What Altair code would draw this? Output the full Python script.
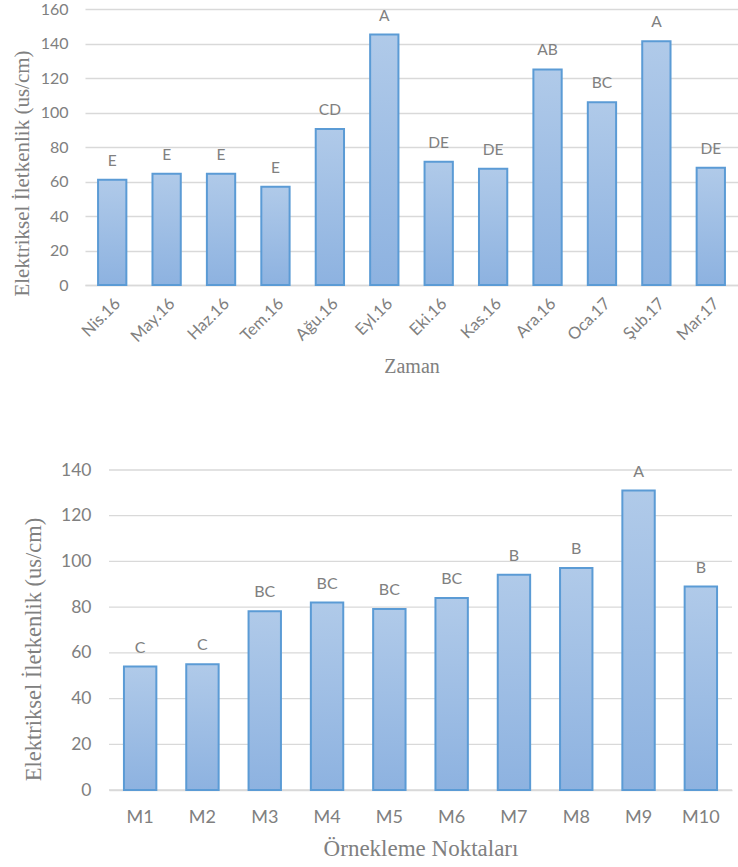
import altair as alt
import pandas as pd

months = ["Nis.16", "May.16", "Haz.16", "Tem.16", "Ağu.16", "Eyl.16",
          "Eki.16", "Kas.16", "Ara.16", "Oca.17", "Şub.17", "Mar.17"]
month_values = [61, 64.5, 64.5, 57, 90.5, 145.2, 71.5, 67.4, 125, 106, 141.3, 68]
month_letters = ["E", "E", "E", "E", "CD", "A", "DE", "DE", "AB", "BC", "A", "DE"]

points = ["M1", "M2", "M3", "M4", "M5", "M6", "M7", "M8", "M9", "M10"]
point_values = [54, 55, 78.2, 82, 79.2, 84, 94.2, 97.1, 131, 89]
point_letters = ["C", "C", "BC", "BC", "BC", "BC", "B", "B", "A", "B"]

top_ticks = [0, 20, 40, 60, 80, 100, 120, 140, 160]
bottom_ticks = [0, 20, 40, 60, 80, 100, 120, 140]

df1 = pd.DataFrame({"cat": months, "val": month_values, "lab": month_letters})
df2 = pd.DataFrame({"cat": points, "val": point_values, "lab": point_letters})
grid2 = pd.DataFrame({"val": bottom_ticks})

grad = alt.Gradient(
    gradient="linear",
    stops=[alt.GradientStop(color="#b0cae9", offset=0),
           alt.GradientStop(color="#8db2e0", offset=1)],
    x1=0, x2=0, y1=0, y2=1,
)

GRAY = "#808080"
GRID = "#d9d9d9"
SANS = "Lato"
SERIF = "Liberation Serif"
YTITLE = "Elektriksel İletkenlik  (us/cm)"

# ---------------- top panel ----------------
x1 = alt.X("cat:N", sort=months, title="Zaman",
           scale=alt.Scale(paddingInner=0.48, paddingOuter=0.24),
           axis=alt.Axis(labelAngle=-45, labelFont=SANS, labelFontSize=16.5,
                         labelColor=GRAY, titleFont=SERIF, titleFontSize=20,
                         titleColor=GRAY, titleFontWeight="normal", ticks=False,
                         domain=True, domainColor=GRID, domainWidth=1.5,
                         labelPadding=10, titlePadding=12))
y1 = alt.Y("val:Q", title=YTITLE,
           scale=alt.Scale(domain=[0, 160], nice=False),
           axis=alt.Axis(values=top_ticks, labelFont=SANS, labelFontSize=16,
                         labelColor=GRAY, titleFont=SERIF, titleFontSize=21,
                         titleColor=GRAY, titleFontWeight="normal", ticks=False,
                         domain=False, grid=True, gridColor=GRID, gridWidth=1.3,
                         labelPadding=17, titlePadding=8, titleY=164))
b1 = alt.Chart(df1)
top = (
    b1.mark_bar(color=grad, stroke="#5b9bd5", strokeWidth=2).encode(x=x1, y=y1)
    + b1.mark_text(font=SANS, fontSize=15.5, color=GRAY, dy=-14,
                   baseline="alphabetic").encode(x=x1, y=y1, text="lab:N")
).properties(width=653, height=276)

# ---------------- bottom panel ----------------
x2 = alt.X("cat:N", sort=points, title="Örnekleme Noktaları",
           scale=alt.Scale(range=[24, 647], paddingInner=0.48, paddingOuter=0.24),
           axis=alt.Axis(labelAngle=0, labelFont=SANS, labelFontSize=18,
                         labelColor=GRAY, titleFont=SERIF, titleFontSize=23,
                         titleColor=GRAY, titleFontWeight="normal", ticks=False,
                         domain=True, domainColor=GRID, domainWidth=1.5,
                         labelPadding=18, titlePadding=11))
y2 = alt.Y("val:Q", title=YTITLE,
           scale=alt.Scale(domain=[0, 140], nice=False),
           axis=alt.Axis(values=bottom_ticks, labelFont=SANS, labelFontSize=17.5,
                         labelColor=GRAY, titleFont=SERIF, titleFontSize=22.5,
                         titleColor=GRAY, titleFontWeight="normal", ticks=False,
                         domain=False, grid=False, offset=-24,
                         labelPadding=18, titlePadding=15, titleY=179))
b2 = alt.Chart(df2)
gridlines = alt.Chart(grid2).mark_rule(color=GRID, strokeWidth=1.3).encode(
    y=y2, x=alt.value(24), x2=alt.value(647))
bottom = (
    gridlines
    + b2.mark_bar(color=grad, stroke="#5b9bd5", strokeWidth=2).encode(x=x2, y=y2)
    + b2.mark_text(font=SANS, fontSize=16, color=GRAY, dy=-14,
                   baseline="alphabetic").encode(x=x2, y=y2, text="lab:N")
).properties(width=647, height=320)

chart = alt.vconcat(top, bottom, spacing=84).properties(
    padding={"left": 11, "top": 1, "right": 0, "bottom": 0}
).configure_view(stroke=None)

chart.save("out.html", embed_options={"renderer": "svg", "actions": False})
